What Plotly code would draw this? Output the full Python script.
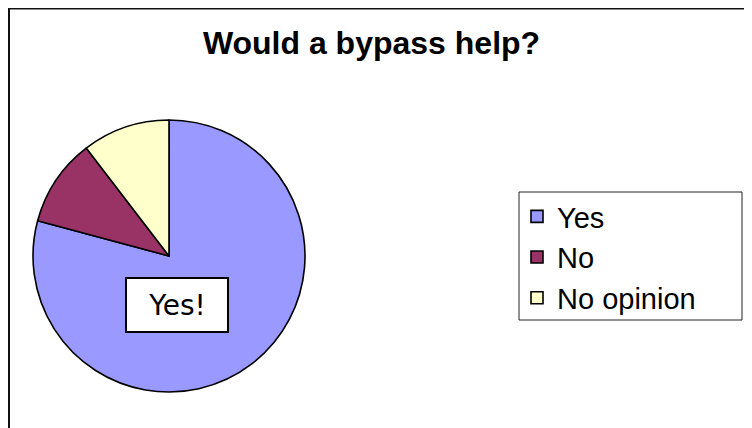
import plotly.graph_objects as go

labels = ["Yes", "No", "No opinion"]
values = [76, 10, 10]
colors = ["#9999FF", "#993366", "#FFFFCC"]
title_text = "Would a bypass help?"
callout_text = "Yes!"

W, H = 752, 428

def px(x):
    return x / W

def py(y):
    return 1 - y / H

# pie geometry in figure pixels
cx, cy, r = 161, 248, 136

fig = go.Figure()
fig.add_trace(go.Pie(
    labels=labels,
    values=values,
    sort=False,
    direction="clockwise",
    rotation=0,
    marker=dict(colors=colors, line=dict(color="#000000", width=1.6)),
    textinfo="none",
    hoverinfo="label+percent",
    domain=dict(x=[px(cx - r), px(cx + r)], y=[py(cy + r), py(cy - r)]),
))

fig.update_layout(
    width=W, height=H,
    margin=dict(l=0, r=0, t=0, b=0),
    paper_bgcolor="white",
    plot_bgcolor="white",
    font=dict(family="Liberation Sans, Arial, sans-serif", color="#000000"),
    title=dict(
        text="<b>" + title_text + "</b>",
        x=px(363.5), xanchor="center",
        y=py(35), yanchor="middle",
        xref="paper", yref="paper",
        font=dict(size=32, family="Liberation Sans, Arial, sans-serif", color="#000000"),
    ),
    legend=dict(
        x=px(509), y=py(183), xanchor="left", yanchor="top",
        font=dict(size=29, family="Liberation Sans, Arial, sans-serif", color="#000000"),
        bgcolor="rgba(0,0,0,0)", borderwidth=0,
        itemclick=False, itemdoubleclick=False,
    ),
    showlegend=True,
)

# outer chart frame (extends beyond the visible area on the right/bottom)
fig.add_shape(type="rect", xref="paper", yref="paper",
              x0=px(1), x1=1.2, y0=-0.2, y1=py(0.6),
              line=dict(color="#111111", width=2), fillcolor="rgba(0,0,0,0)")
# legend frame
fig.add_shape(type="rect", xref="paper", yref="paper",
              x0=px(511), x1=px(734), y0=py(312), y1=py(184),
              line=dict(color="#222222", width=1), fillcolor="rgba(0,0,0,0)")

# callout
fig.add_annotation(
    text=callout_text, xref="paper", yref="paper",
    x=px(169), y=py(297), xanchor="center", yanchor="middle",
    showarrow=False, width=100, height=52, borderpad=0, borderwidth=2,
    bordercolor="#000000", bgcolor="#FFFFFF",
    font=dict(size=28, family="DejaVu Sans, Verdana, sans-serif", color="#000000"),
)

fig.write_html("out.html")
